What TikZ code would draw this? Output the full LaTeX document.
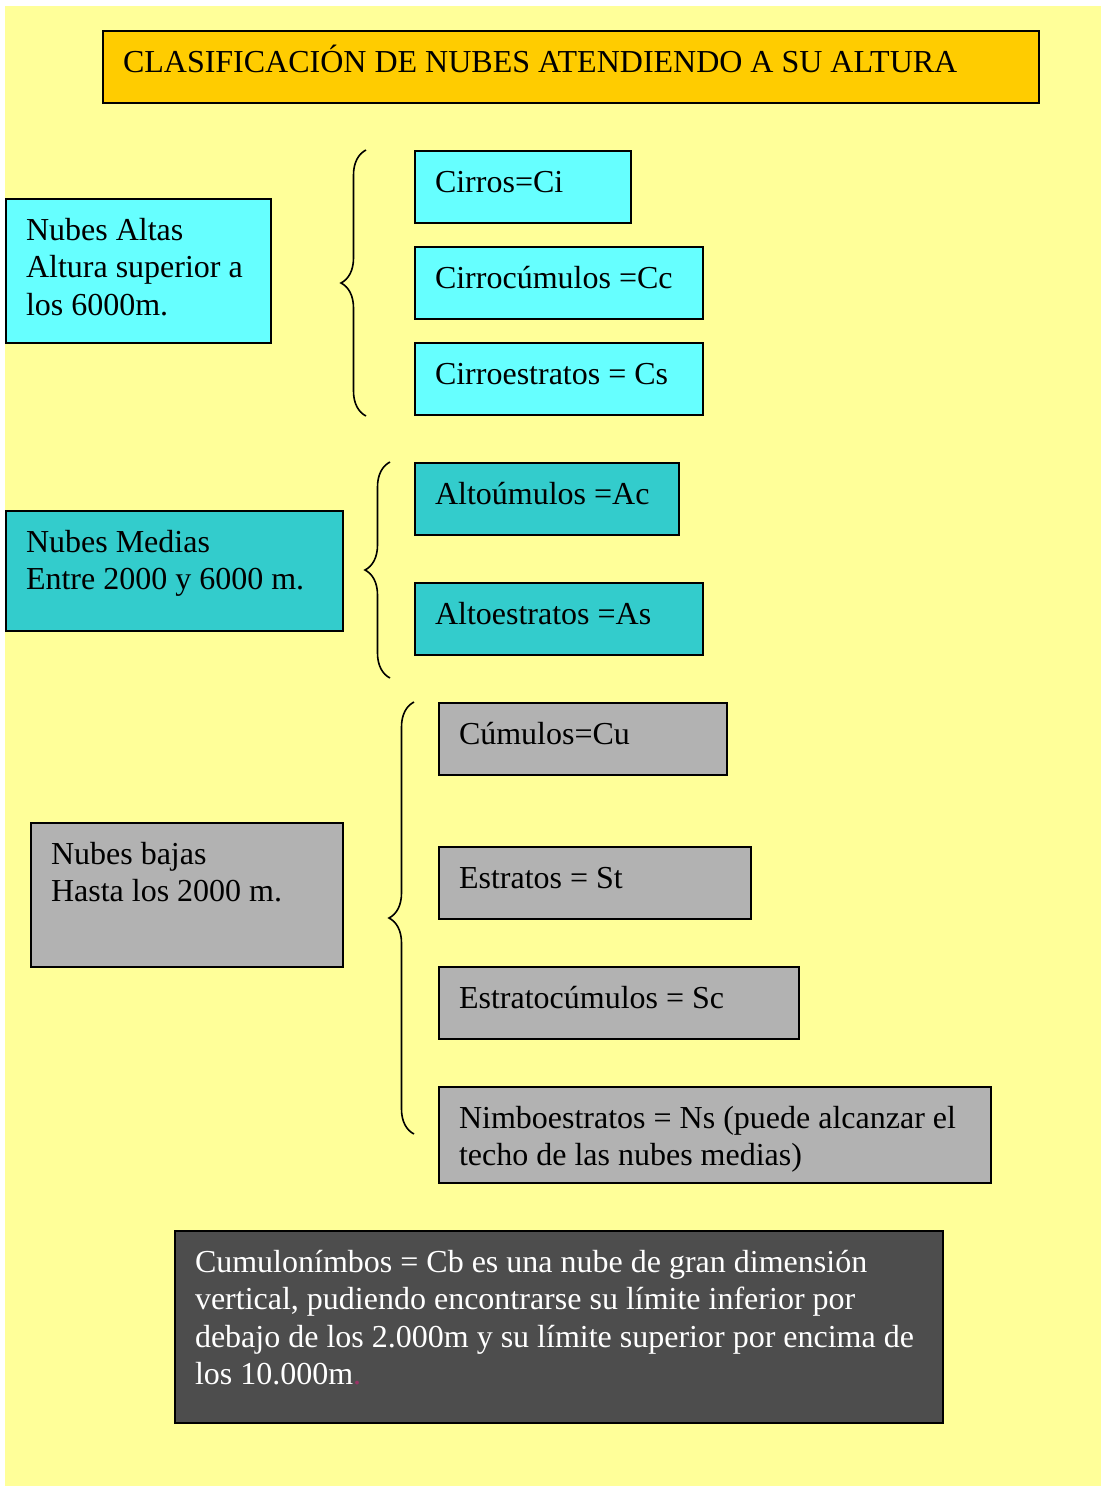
\documentclass[tikz,border=0pt]{standalone}
\usepackage{fontspec}
\setmainfont{Liberation Serif}
\usepackage{tikz}
\usetikzlibrary{decorations.pathreplacing}

\definecolor{fondo}{HTML}{FFFF99}
\definecolor{naranja}{HTML}{FFCC00}
\definecolor{cian}{HTML}{66FFFF}
\definecolor{turquesa}{HTML}{33CCCC}
\definecolor{gris}{HTML}{B2B2B2}
\definecolor{oscuro}{HTML}{4D4D4D}
\definecolor{granate}{HTML}{993366}

\begin{document}
\begin{tikzpicture}[x=1pt,y=-1pt,
    caja/.style={draw, line width=2pt, anchor=north west, align=flush left,
        inner xsep=20pt, inner ysep=15pt, text height=26pt,
        font=\fontsize{32}{37.5}\selectfont},
    llave/.style={decorate, decoration={brace, amplitude=25pt}, line width=1.6pt}]
    \useasboundingbox (0,0) rectangle (1101,1486);
    \fill [white] (0,0) rectangle (1101,1486);
    \fill [fondo] (5,6) rectangle (1101,1486);

    % titulo
    \node (titulo) [caja, fill=naranja, text width=896pt, text depth=16pt] at (102,30)
        {CLASIFICACIÓN DE NUBES ATENDIENDO A SU ALTURA};

    % nubes altas
    \node (altas) [caja, fill=cian, text width=225pt, text depth=88pt] at (5,198)
        {Nubes Altas\\Altura superior a\\los 6000m.};
    \node (cirros) [caja, fill=cian, text width=176pt, text depth=16pt] at (414,150) {Cirros=Ci};
    \node (cirrocum) [caja, fill=cian, text width=248pt, text depth=16pt] at (414,246) {Cirrocúmulos =Cc};
    \node (cirroest) [caja, fill=cian, text width=248pt, text depth=16pt] at (414,342) {Cirroestratos = Cs};
    \draw [llave] ([xshift=-48pt]cirroest.south west) -- ([xshift=-48pt]cirros.north west);

    % nubes medias
    \node (medias) [caja, fill=turquesa, text width=297pt, text depth=64pt] at (5,510)
        {Nubes Medias\\Entre 2000 y 6000 m.};
    \node (altocum) [caja, fill=turquesa, text width=224pt, text depth=16pt] at (414,462) {Altoúmulos =Ac};
    \node (altoest) [caja, fill=turquesa, text width=248pt, text depth=16pt] at (414,582) {Altoestratos =As};
    \draw [llave] ([xshift=-24pt]altoest.west |- 0,678) -- ([xshift=-24pt]altocum.north west);

    % nubes bajas
    \node (bajas) [caja, fill=gris, text width=272pt, text depth=88pt] at (30,822)
        {Nubes bajas\\Hasta los 2000 m.};
    \node (cumulos) [caja, fill=gris, text width=248pt, text depth=16pt] at (438,702) {Cúmulos=Cu};
    \node (estratos) [caja, fill=gris, text width=272pt, text depth=16pt] at (438,846) {Estratos = St};
    \node (estratocum) [caja, fill=gris, text width=320pt, text depth=16pt] at (438,966) {Estratocúmulos = Sc};
    \node (nimbo) [caja, fill=gris, text width=512pt, text depth=40pt] at (438,1086)
        {Nimboestratos = Ns (puede alcanzar el\\techo de las nubes medias)};
    \draw [llave] ([xshift=-24pt]nimbo.north west |- 0,1134) -- ([xshift=-24pt]cumulos.north west);

    % cumulonimbos
    \node (cumulonimbos) [caja, fill=oscuro, text=white, text width=728pt, text depth=136pt] at (174,1230)
        {\mbox{Cumulonímbos = Cb es una nube de gran dimensión}\\
         \mbox{vertical, pudiendo encontrarse su límite inferior por}\\
         \mbox{debajo de los 2.000m y su límite superior por encima de}\\
         \mbox{los 10.000m{\color{granate}.}}};
\end{tikzpicture}
\end{document}
